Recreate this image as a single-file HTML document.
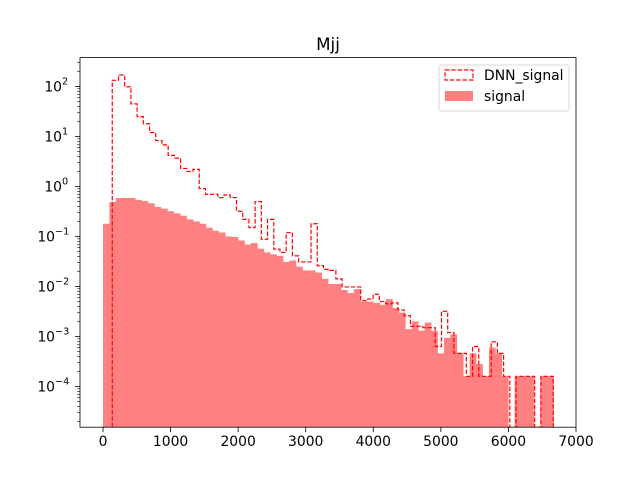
<!DOCTYPE html>
<html><head><meta charset="utf-8"><style>
body{margin:0;background:#fff}
svg text{font-family:"DejaVu Sans","Liberation Sans",sans-serif;fill:#000}
</style></head><body>
<svg id="chart" width="640" height="480" xmlns="http://www.w3.org/2000/svg">
<rect width="640" height="480" fill="#fff"/>
<g id="plot"></g>
<g id="axes"></g>
</svg>
<script>
const signalRange = [0, 6664];
const signalValues = [0.18,0.49,0.59,0.59,0.59,0.54,0.51,0.46,0.39,0.36,0.32,0.29,0.26,0.22,0.20,0.18,0.15,0.13,0.12,0.10,0.098,0.083,0.069,0.074,0.057,0.048,0.044,0.041,0.031,0.033,0.025,0.021,0.021,0.019,0.0142,0.0112,0.0112,0.0085,0.0074,0.0089,0.0050,0.0050,0.0047,0.0043,0.0056,0.0037,0.0030,0.0014,0.0020,0.00131,0.0019,0.0013,0.00046,0.00094,0.0011,0.00046,0.00016,0.00046,0.00028,0.00016,0.0006,0.00046,0.00016,0,0.00016,0.00016,0.00016,0,0.00016,0.00016];
const dnnRange = [137, 6664];
const dnnValues = [133,170,99,45,25,18,12,8.3,6.8,4.2,3.7,2.3,2.0,2.2,0.91,0.70,0.70,0.60,0.68,0.60,0.32,0.22,0.15,0.50,0.088,0.22,0.056,0.048,0.12,0.041,0.031,0.031,0.18,0.026,0.022,0.021,0.0142,0.0098,0.0098,0.0098,0.0052,0.0056,0.0070,0.0050,0.0045,0.0047,0.0034,0.0026,0.0016,0.0016,0.0015,0.0015,0.00063,0.0032,0.0012,0.00046,0.00046,0.00016,0.00063,0.00016,0.00016,0.00078,0.00046,0.00016,0,0.00016,0.00016,0.00016,0,0.00016,0.00016];
const xTicks = [0,1000,2000,3000,4000,5000,6000,7000];
const yTickExps = [-4,-3,-2,-1,0,1,2];

const L=80,R=576,T=57.6,B=427.2;
const X0=103, XS=(576-103)/7000;
const x = v => X0 + v*XS;
const Y2=86.5, DEC=50;
const y = v => v<=0 ? B : Math.min(B, Y2 - (Math.log10(v)-2)*DEC);
const NS='http://www.w3.org/2000/svg';
function mk(tag, attrs, parent){const e=document.createElementNS(NS,tag);for(const k in attrs)e.setAttribute(k,attrs[k]);parent.appendChild(e);return e;}
const plot=document.getElementById('plot'), axes=document.getElementById('axes');
const cp=mk('clipPath',{id:'clip'},plot);
mk('rect',{x:L,y:T,width:R-L,height:B-T},cp);
const g=mk('g',{'clip-path':'url(#clip)'},plot);

const sw=(signalRange[1]-signalRange[0])/signalValues.length;
signalValues.forEach((v,i)=>{
  if(v<=0) return;
  const x1=x(signalRange[0]+i*sw), x2=x(signalRange[0]+(i+1)*sw);
  const r=mk('rect',{x:x1,y:y(v),width:x2-x1+0.3,height:B-y(v),fill:'#ff8080'},g);
  
  
});
const dw=(dnnRange[1]-dnnRange[0])/dnnValues.length;
let d='M'+x(dnnRange[0])+','+B;
dnnValues.forEach((v,i)=>{
  const x1=x(dnnRange[0]+i*dw), x2=x(dnnRange[0]+(i+1)*dw);
  d+=' L'+x1+','+y(v)+' L'+x2+','+y(v);
});
d+=' L'+x(dnnRange[1])+','+B;
const p=mk('path',{d:d,fill:'none',stroke:'#ff0000','stroke-width':1.2,'stroke-dasharray':'4.4,1.9'},g);



const fr=mk('rect',{x:L,y:T,width:R-L,height:B-T,fill:'none',stroke:'#000','stroke-width':0.8},axes);


xTicks.forEach(t=>{
  mk('line',{x1:x(t),x2:x(t),y1:B,y2:B+4.9,stroke:'#000','stroke-width':0.8},axes);
  const tx=mk('text',{x:x(t),y:B+19,'font-size':13.9,'text-anchor':'middle'},axes);
  tx.textContent=t;
  
  
});
yTickExps.forEach(e=>{
  const yy=y(Math.pow(10,e));
  mk('line',{x1:L-4.9,x2:L,y1:yy,y2:yy,stroke:'#000','stroke-width':0.8},axes);
  const tx=mk('text',{x:L-(e<0?25:18),y:yy+5,'font-size':13.9,'text-anchor':'end'},axes);
  tx.textContent='10';
  
  
  const sp=mk('text',{x:L-(e<0?25:18),y:yy-2,'font-size':9.7,'text-anchor':'start'},axes);
  sp.textContent=(e<0?'\u2212':'')+Math.abs(e);
  
  
});
for(let e=-5;e<=2;e++){for(let m=2;m<=9;m++){const v=m*Math.pow(10,e);const yy=y(v);if(yy>T&&yy<B)mk('line',{x1:L-2.8,x2:L,y1:yy,y2:yy,stroke:'#000','stroke-width':0.6},axes);}}
const ti=mk('text',{x:328,y:50,'font-size':16.7,'text-anchor':'middle'},axes);
ti.textContent='Mjj';


const lg=mk('g',{},axes);


mk('rect',{x:439,y:65,width:130,height:46,rx:2,fill:'#fff','fill-opacity':0.8,stroke:'#ccc','stroke-width':0.8},lg);
const e1=mk('rect',{x:445,y:70,width:28,height:10,fill:'none',stroke:'#ff0000','stroke-width':1.2,'stroke-dasharray':'4.4,1.9'},lg);


const t1=mk('text',{x:484,y:80,'font-size':13.9},lg);t1.textContent='DNN_signal';


const e2=mk('rect',{x:445,y:91,width:28,height:10,fill:'#ff8080'},lg);


const t2=mk('text',{x:484,y:101,'font-size':13.9},lg);t2.textContent='signal';


</script>
</body></html>
